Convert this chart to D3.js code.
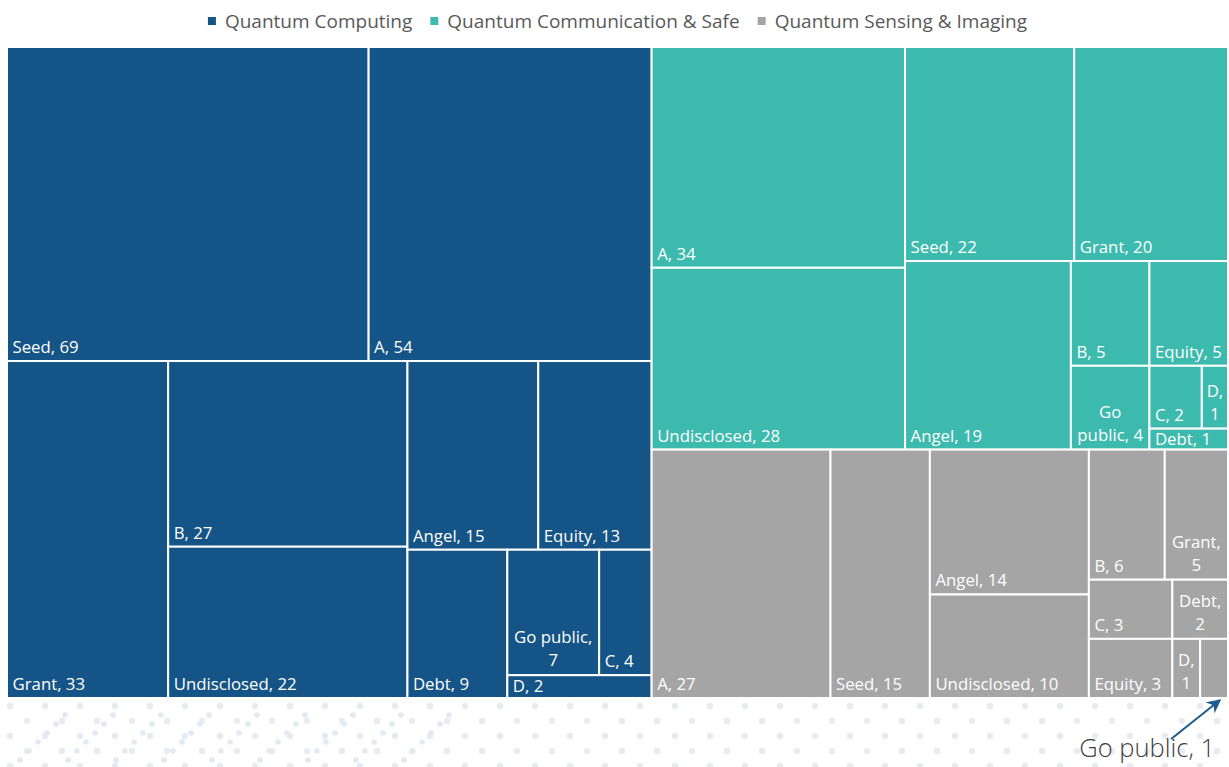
<!DOCTYPE html>
<html><head><meta charset="utf-8">
<script src="https://cdn.jsdelivr.net/npm/d3@7"></script>
<style>
html,body{margin:0;padding:0;background:#fff;}
svg{display:block;font-family:"Open Sans","Segoe UI",sans-serif;}
</style></head><body>
<svg id="chart" width="1229" height="767"></svg>
<script>
// ---- data ----
const sectors = ["Quantum Computing", "Quantum Communication & Safe", "Quantum Sensing & Imaging"];
const stages = ["Seed", "A", "B", "C", "D", "Angel", "Grant", "Undisclosed", "Equity", "Debt", "Go public"];
const computingDeals     = [69, 54, 27, 4, 2, 15, 33, 22, 13, 9, 7];
const communicationDeals = [22, 34, 5, 2, 1, 19, 20, 28, 5, 1, 4];
const sensingDeals       = [15, 27, 6, 3, 1, 14, 5, 10, 3, 2, 1];
const sectorColors = ["#155486", "#3dbaae", "#a5a5a5"];
const calloutLabel = "Go public, 1";

const seriesValues = [computingDeals, communicationDeals, sensingDeals];

const svg = d3.select("#chart");
const plot = {x: 7, y: 47, w: 1221, h: 651};

// ---- faint decorative dots at the bottom ----
const deco = svg.append("g").attr("fill", "#e9ebf3");
for (let r = 0; r < 5; r++) {
  for (let c = 0; c < 36; c++) {
    const x = 10 + c * 35 + (r % 2) * 17;
    const y = 706 + r * 15;
    deco.append("circle").attr("cx", x).attr("cy", y).attr("r", 3.2);
  }
}
for (let k = 0; k < 9; k++) {
  for (let j = 0; j < 6; j++) {
    deco.append("circle").attr("cx", 20 + k * 48 + j * 9).attr("cy", 760 - j * 9).attr("r", 2.8).attr("fill", "#e3e8f3");
  }
}

// ---- hierarchy ----
const rootData = {
  name: "root",
  children: sectors.map((s, i) => ({
    name: s, idx: i,
    children: stages.map((st, j) => ({name: st, value: seriesValues[i][j], sector: i}))
  }))
};

// Excel-like squarified tiling: rows along the shorter side; keep adding while
// the worst |w/h - 1| of the row does not get worse.
function excelTile(parent, x0, y0, x1, y1) {
  const nodes = parent.children;
  const n = nodes.length;
  let value = parent.value;
  let i0 = 0;
  while (i0 < n) {
    const dx = x1 - x0, dy = y1 - y0;
    const wide = dx >= dy;
    const worst = (a, b, s) => {
      let m = 0;
      for (let i = a; i < b; i++) {
        const v = nodes[i].value;
        let w, h;
        if (wide) { w = dx * s / value; h = dy * v / s; }
        else { h = dy * s / value; w = dx * v / s; }
        m = Math.max(m, Math.abs(w / h - 1));
      }
      return m;
    };
    let i1 = i0 + 1;
    let sum = nodes[i0].value;
    let best = worst(i0, i1, sum);
    while (i1 < n) {
      const s2 = sum + nodes[i1].value;
      const w2 = worst(i0, i1 + 1, s2);
      if (w2 > best) break;
      best = w2; sum = s2; i1++;
    }
    const row = {value: sum, children: nodes.slice(i0, i1)};
    if (wide) {
      const xe = value ? x0 + dx * sum / value : x1;
      d3.treemapSlice(row, x0, y0, xe, y1);
      x0 = xe;
    } else {
      const ye = value ? y0 + dy * sum / value : y1;
      d3.treemapDice(row, x0, y0, x1, ye);
      y0 = ye;
    }
    value -= sum;
    i0 = i1;
  }
}

const root = d3.hierarchy(rootData)
  .sum(d => d.value || 0)
  .sort((a, b) => b.value - a.value);

d3.treemap().size([plot.w, plot.h]).tile(excelTile).round(false)(root);

const color = d3.scaleOrdinal().domain(d3.range(sectors.length)).range(sectorColors);

const g = svg.append("g").attr("transform", `translate(${plot.x},${plot.y})`);
const leaves = root.leaves();

g.selectAll("rect.cell").data(leaves).join("rect")
  .attr("class", "cell")
  .attr("x", d => d.x0).attr("y", d => d.y0)
  .attr("width", d => d.x1 - d.x0).attr("height", d => d.y1 - d.y0)
  .attr("fill", d => color(d.data.sector))
  .attr("stroke", "#ffffff").attr("stroke-width", 2);

// ---- labels ----
const FS = 16.8;
const meas = svg.append("text").attr("font-size", FS).attr("visibility", "hidden");
const measure = s => { meas.text(s); return meas.node().getComputedTextLength(); };

const labels = g.append("g").attr("fill", "#ffffff").attr("font-size", FS);
leaves.forEach(d => {
  const w = d.x1 - d.x0, h = d.y1 - d.y0;
  const full = `${d.data.name}, ${d.data.value}`;
  if (measure(full) + 8 <= w) {
    const off = Math.min(8, (h - 11.8) / 2);
    labels.append("text").attr("x", d.x0 + 5.5).attr("y", d.y1 - off).text(full);
    return;
  }
  const avail = w - 4;
  const words = full.split(" ");
  if (words.some(wd => measure(wd) > avail)) return; // too small: hidden
  const lines = [];
  let cur = words[0];
  for (let i = 1; i < words.length; i++) {
    const t = cur + " " + words[i];
    if (measure(t) <= avail) cur = t; else { lines.push(cur); cur = words[i]; }
  }
  lines.push(cur);
  const cx = (d.x0 + d.x1) / 2;
  lines.forEach((ln, i) => {
    labels.append("text").attr("x", cx).attr("text-anchor", "middle")
      .attr("y", d.y1 - 9 - (lines.length - 1 - i) * 23).text(ln);
  });
});
meas.remove();

// ---- legend ----
const legendFS = 19;
const lm = svg.append("text").attr("font-size", legendFS).attr("visibility", "hidden");
const lw = sectors.map(s => { lm.text(s); return lm.node().getComputedTextLength(); });
lm.remove();
const sq = 8, gapText = 9, gapItem = 18;
const total = d3.sum(lw) + sectors.length * (sq + gapText) + (sectors.length - 1) * gapItem;
let lx = plot.x + plot.w / 2 - total / 2;
const legend = svg.append("g");
sectors.forEach((s, i) => {
  legend.append("rect").attr("x", lx).attr("y", 17).attr("width", sq).attr("height", sq).attr("fill", sectorColors[i]);
  legend.append("text").attr("x", lx + sq + gapText).attr("y", 28)
    .attr("font-size", legendFS).attr("fill", "#595959").text(s);
  lx += sq + gapText + lw[i] + gapItem;
});

// ---- callout for the hidden smallest cell ----
const target = leaves.find(d => d.data.sector === 2 && d.data.name === "Go public");
const defs = svg.append("defs");
defs.append("marker").attr("id", "arr").attr("viewBox", "0 0 10 10").attr("refX", 9).attr("refY", 5)
  .attr("markerWidth", 7).attr("markerHeight", 7).attr("orient", "auto")
  .append("path").attr("d", "M0,0 L10,5 L0,10 L3,5 Z").attr("fill", "#1f5a8c");
const tx = plot.x + (target.x0 + target.x1) / 2, ty = plot.y + target.y1;
svg.append("line").attr("x1", tx - 43).attr("y1", ty + 41).attr("x2", tx + 6).attr("y2", ty + 2)
  .attr("stroke", "#1f5a8c").attr("stroke-width", 2).attr("marker-end", "url(#arr)");
svg.append("text").attr("x", tx + 1).attr("y", ty + 59).attr("text-anchor", "end")
  .attr("font-size", 25.5).attr("font-weight", 300).attr("fill", "#404040").text(calloutLabel);
</script>
</body></html>
